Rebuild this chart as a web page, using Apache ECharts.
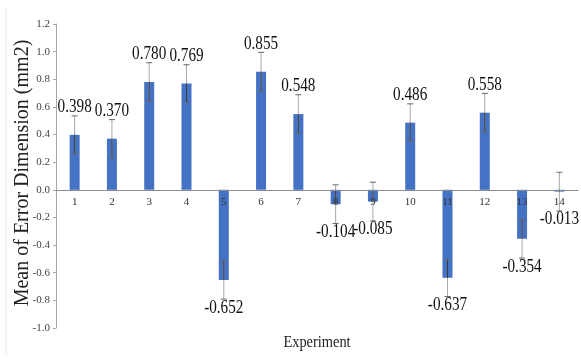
<!DOCTYPE html>
<html>
<head>
<meta charset="utf-8">
<script src="https://cdn.jsdelivr.net/npm/echarts@6/dist/echarts.min.js"></script>
<style>
html,body{margin:0;padding:0;background:#fff;}
#chart{width:581px;height:361px;}
</style>
</head>
<body>
<div id="chart"></div>
<script>
const categories = ['1','2','3','4','5','6','7','8','9','10','11','12','13','14'];
const means = [0.398, 0.370, 0.780, 0.769, -0.652, 0.855, 0.548, -0.104, -0.085, 0.486, -0.637, 0.558, -0.354, -0.013];
const errors = [0.137, 0.138, 0.14, 0.136, 0.139, 0.14, 0.14, 0.14, 0.14, 0.136, 0.135, 0.14, 0.14, 0.14];
const labels = ['0.398','0.370','0.780','0.769','-0.652','0.855','0.548','-0.104','-0.085','0.486','-0.637','0.558','-0.354','-0.013'];
const yTicks = {min: -1.0, max: 1.2, interval: 0.2};
const yTitle = 'Mean of Error Dimension (mm2)';
const xTitle = 'Experiment';

const serif = '"Liberation Serif", "Times New Roman", serif';
const chart = echarts.init(document.getElementById('chart'), null, {renderer: 'canvas'});

const errData = means.map((m, i) => [i, m, errors[i]]);

chart.setOption({
  animation: false,
  backgroundColor: '#ffffff',
  grid: {left: 56, right: 3, top: 24, bottom: 33, containLabel: false},
  xAxis: {
    type: 'category',
    data: categories,
    z: 10,
    axisLine: {onZero: true, lineStyle: {color: '#8c8c8c', width: 1}},
    axisTick: {show: false},
    axisLabel: {fontFamily: serif, fontSize: 11, color: '#333', margin: -131},
    splitLine: {show: false}
  },
  yAxis: {
    type: 'value',
    min: yTicks.min, max: yTicks.max, interval: yTicks.interval,
    axisLine: {show: true, lineStyle: {color: '#a6a6a6', width: 1}},
    axisTick: {show: true, inside: false, length: 3, lineStyle: {color: '#a6a6a6'}},
    axisLabel: {fontFamily: serif, fontSize: 11, color: '#444', margin: 6,
      formatter: v => v.toFixed(1)},
    splitLine: {show: false}
  },
  graphic: [
    {type: 'text', x: 317, y: 343, scaleX: 0.9,
     style: {text: xTitle, x: 0, y: 0, align: 'center', verticalAlign: 'middle',
       font: '16px ' + serif, fill: '#222'}},
    {type: 'text', x: 23, y: 173, rotation: Math.PI / 2,
     style: {text: yTitle, x: 0, y: 0, align: 'center', verticalAlign: 'middle',
       font: '20px ' + serif, fill: '#222'}},
    {type: 'line', shape: {x1: 6, y1: 8, x2: 6, y2: 355}, style: {stroke: '#e6e6e6', lineWidth: 1}}
  ],
  series: [
    {
      type: 'bar',
      data: means,
      barWidth: 10,
      itemStyle: {color: '#4472c4'},
      label: {show: false},
      z: 2
    },
    {
      type: 'custom',
      data: errData,
      z: 3,
      renderItem: function (params, api) {
        const i = api.value(0), v = api.value(1), e = api.value(2);
        const txt = labels[i];
        const hi = api.coord([i, v + e]);
        const lo = api.coord([i, v - e]);
        const mid = api.coord([i, v]);
        const x = mid[0];
        const cap = 3;
        const innerEnd = v >= 0 ? Math.max(v - e, 0) : Math.min(v + e, 0);
        const inner = api.coord([i, innerEnd]);
        const tip = v >= 0 ? hi : lo;
        const children = [
          {type: 'line', shape: {x1: x, y1: hi[1], x2: x, y2: lo[1]},
           style: {stroke: '#a8a8a8', lineWidth: 1}},
          {type: 'line', shape: {x1: x, y1: mid[1], x2: x, y2: inner[1]},
           style: {stroke: '#3a3a3a', lineWidth: 1}},
          {type: 'line', shape: {x1: x - cap, y1: hi[1], x2: x + cap, y2: hi[1]},
           style: {stroke: '#666', lineWidth: 1}},
          {type: 'line', shape: {x1: x - cap, y1: lo[1], x2: x + cap, y2: lo[1]},
           style: {stroke: '#666', lineWidth: 1}},
          {type: 'text', x: x, y: v >= 0 ? tip[1] + 1 : tip[1] - 1, scaleX: 0.8,
           style: {text: txt, x: 0, y: 0, align: 'center',
             verticalAlign: v >= 0 ? 'bottom' : 'top',
             font: '19px ' + serif, fill: '#111'}}
        ];
        return {type: 'group', children: children};
      }
    }
  ]
});
</script>
</body>
</html>
